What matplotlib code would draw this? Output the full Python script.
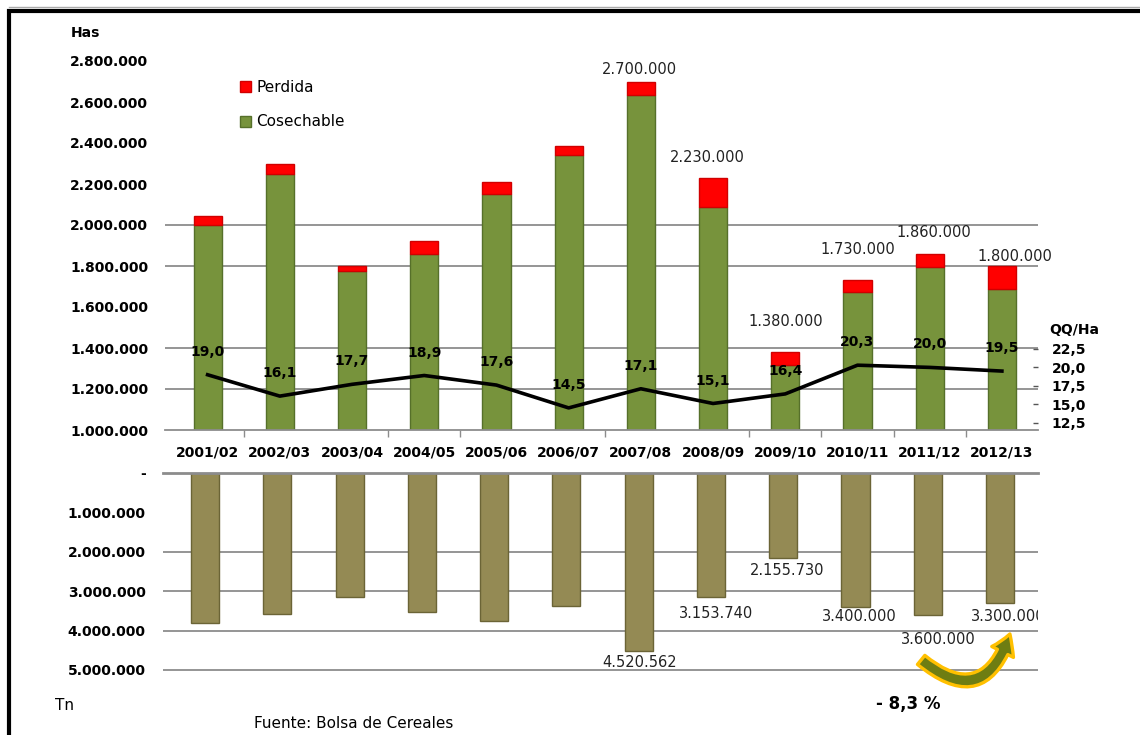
import matplotlib
matplotlib.use("Agg")
import matplotlib.pyplot as plt
import matplotlib.patches as mpatches
from matplotlib.ticker import FixedLocator, FuncFormatter

# campaign data (Has / Tn / QQ/Ha)
campaigns = ['2001/02', '2002/03', '2003/04', '2004/05', '2005/06', '2006/07',
             '2007/08', '2008/09', '2009/10', '2010/11', '2011/12', '2012/13']
cosechable = [2000000, 2250000, 1775000, 1860000, 2150000, 2340000,
              2635000, 2090000, 1315000, 1675000, 1795000, 1690000]
perdida = [45000, 50000, 25000, 60000, 60000, 45000,
           65000, 140000, 65000, 55000, 65000, 110000]
sembrada_lbl = [None, None, None, None, None, None,
                2700000, 2230000, 1380000, 1730000, 1860000, 1800000]
rinde = [19.0, 16.1, 17.7, 18.9, 17.6, 14.5, 17.1, 15.1, 16.4, 20.3, 20.0, 19.5]
produccion = [3810000, 3585000, 3160000, 3520000, 3770000, 3390000,
              4520562, 3153740, 2155730, 3400000, 3600000, 3300000]
prod_lbl = [None, None, None, None, None, None,
            4520562, 3153740, 2155730, 3400000, 3600000, 3300000]

# label offsets (points), Excel placed them by hand
top_off = [None] * 6 + [(-1, 9), (-4, 15), (0, 22), (0, 22), (3, 15), (9, 7)]
bot_off = [None] * 6 + [(1, -8), (4, -11.5), (3, -9.3), (2.5, -7), (8, -18), (6, -10)]

GREEN = '#77933C'
RED = '#FF0000'
KHAKI = '#948A54'
GRID = '#8C8C8C'


def miles(v):
    return '{:,.0f}'.format(v).replace(',', '.')


W, H = 1140, 735
fig = plt.figure(figsize=(W / 100, H / 100), dpi=100)
x = list(range(len(campaigns)))
xlim = (-0.59, 11.5)

# ---- top chart: hectares ----
ax = fig.add_axes([165 / W, 1 - 430 / H, 873 / W, 369 / H])
tot = [c + p for c, p in zip(cosechable, perdida)]
ax.bar(x, cosechable, width=0.39, color=GREEN, edgecolor='#56702A', lw=1, zorder=2)
ax.bar(x, perdida, bottom=cosechable, width=0.39, color=RED, edgecolor='#D00000',
       lw=1, zorder=2)
for g in [1200000, 1400000, 1800000, 2000000]:
    ax.axhline(g, color=GRID, lw=1.3, zorder=1)
ax.set_xlim(*xlim)
ax.set_ylim(1000000, 2800000)
ax.set_yticks(range(1000000, 2800001, 200000))
ax.yaxis.set_major_formatter(FuncFormatter(lambda v, p: miles(v)))
ax.tick_params(axis='y', length=0, pad=12, labelsize=10)
for t in ax.get_yticklabels():
    t.set_fontweight('bold')
ax.set_xticks(x)
ax.set_xticklabels(campaigns, fontsize=10, fontweight='bold')
ax.tick_params(axis='x', which='major', length=0, pad=11)
ax.xaxis.set_minor_locator(FixedLocator([0.5, 2.5, 3.5, 5.5, 7.5, 8.5, 9.5, 10.5]))
ax.tick_params(axis='x', which='minor', length=5, width=1, color=GRID, direction='out')
for s in ['top', 'left', 'right']:
    ax.spines[s].set_visible(False)
ax.spines['bottom'].set_color(GRID)
ax.spines['bottom'].set_linewidth(1.3)

for i, v in enumerate(sembrada_lbl):
    if v is None:
        continue
    ax.annotate(miles(v), (i, tot[i]), xytext=top_off[i], textcoords='offset points',
                ha='center', va='center', fontsize=10.5, color='#222222', zorder=5)

leg_h = [mpatches.Patch(facecolor=RED, edgecolor='#D00000', label='Perdida'),
         mpatches.Patch(facecolor=GREEN, edgecolor='#56702A', label='Cosechable')]
ax.legend(handles=leg_h, loc='upper left', bbox_to_anchor=(232 / W, 1 - 72 / H),
          bbox_transform=fig.transFigure, frameon=False, borderpad=0,
          handlelength=0.75, handleheight=0.75, handletextpad=0.35,
          labelspacing=1.3, fontsize=11)

# yield line on its own scale
ax2 = ax.twinx()
ax2.plot(x, rinde, color='black', lw=2.6, zorder=4)
ax2.set_ylim(11.5, 61.6)
ax2.set_yticks([12.5, 15.0, 17.5, 20.0, 22.5])
ax2.yaxis.set_major_formatter(FuncFormatter(lambda v, p: '{:.1f}'.format(v).replace('.', ',')))
ax2.tick_params(axis='y', length=3.5, width=1, color='#555555', direction='in',
                pad=10, labelsize=10)
for t in ax2.get_yticklabels():
    t.set_fontweight('bold')
for s in ax2.spines.values():
    s.set_visible(False)
for i, v in enumerate(rinde):
    ax2.annotate('{:.1f}'.format(v).replace('.', ','), (i, v), xytext=(0, 16.5),
                 textcoords='offset points', ha='center', va='center',
                 fontsize=10, fontweight='bold', zorder=5)

# ---- bottom chart: production ----
bx = fig.add_axes([162.5 / W, 1 - 689.7 / H, 875 / W, 217 / H])
bx.bar(x, produccion, width=0.39, color=KHAKI, edgecolor='#6B6436', lw=1, zorder=2)
for g in [2000000, 3000000, 4000000, 5000000]:
    bx.axhline(g, color=GRID, lw=1.3, zorder=1)
bx.set_xlim(xlim[0], xlim[1] + 0.02)
bx.set_ylim(5500000, 0)
bx.set_yticks(range(0, 5000001, 1000000))
bx.yaxis.set_major_formatter(FuncFormatter(lambda v, p: '-' if v == 0 else miles(v)))
bx.tick_params(axis='y', length=0, pad=12, labelsize=10)
for t in bx.get_yticklabels():
    t.set_fontweight('bold')
bx.set_xticks([])
for s in ['bottom', 'left', 'right']:
    bx.spines[s].set_visible(False)
bx.spines['top'].set_color(GRID)
bx.spines['top'].set_linewidth(2)

for i, v in enumerate(prod_lbl):
    if v is None:
        continue
    bx.annotate(miles(v), (i, produccion[i]), xytext=bot_off[i],
                textcoords='offset points', ha='center', va='center',
                fontsize=10.5, color='#222222', zorder=5, clip_on=True)

# change arrow 2011/12 -> 2012/13
arrow = mpatches.FancyArrowPatch((9.88, 4700000), (11.15, 4020000),
                                 connectionstyle='arc3,rad=0.75',
                                 arrowstyle='simple,head_width=1.25,head_length=1.0,tail_width=0.6',
                                 mutation_scale=14, facecolor='#6E7D12',
                                 edgecolor='#FFC000', lw=2.4, zorder=6)
bx.add_patch(arrow)

fig.text(908 / W, 1 - 704 / H, '- 8,3 %', ha='center', va='center',
         fontsize=12, fontweight='bold')
fig.text(55 / W, 1 - 706 / H, 'Tn', ha='left', va='center', fontsize=11)
fig.text(254 / W, 1 - 723 / H, 'Fuente: Bolsa de Cereales', ha='left', va='center',
         fontsize=11)
fig.text(71 / W, 1 - 33 / H, 'Has', ha='left', va='center', fontsize=10,
         fontweight='bold')
fig.text(1074 / W, 1 - 330 / H, 'QQ/Ha', ha='center', va='center', fontsize=10,
         fontweight='bold')

# outer frame
fig.add_artist(plt.Line2D([8.7 / W, 1], [1 - 6.7 / H] * 2, color='#AAAAAA', lw=1,
                          transform=fig.transFigure))
fig.add_artist(mpatches.Rectangle((8.7 / W, -0.1), 1.2, 1.1 - 10.7 / H, fill=False,
                                  lw=3, edgecolor='black', transform=fig.transFigure))

fig.savefig('out.png', dpi=100)
